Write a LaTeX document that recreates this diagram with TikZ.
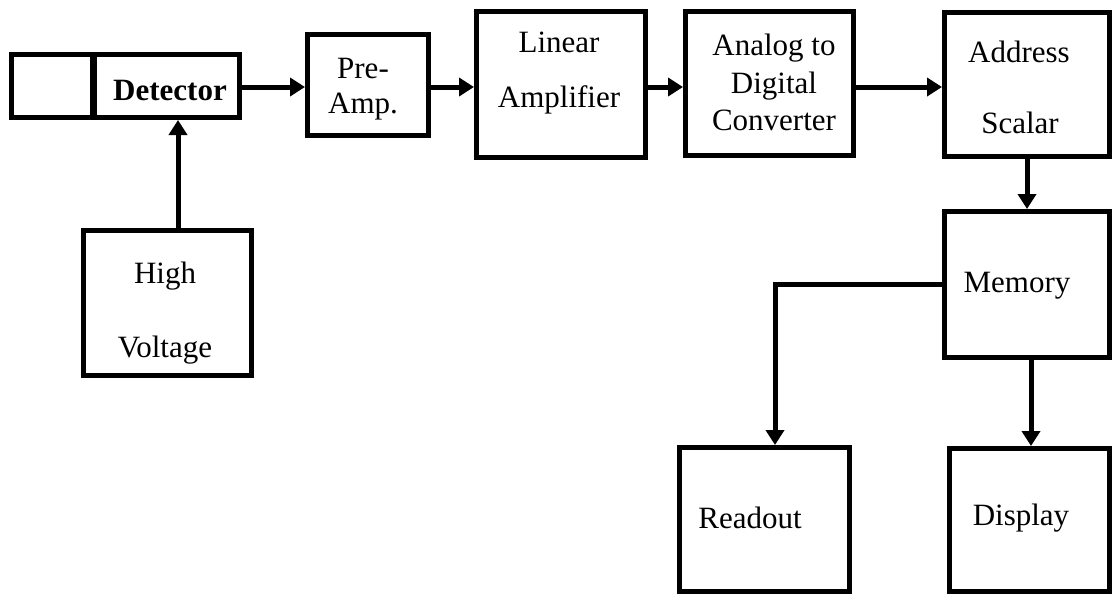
\documentclass[tikz,border=0pt]{standalone}
\usepackage{fontspec}
\setmainfont{Liberation Serif}
\usetikzlibrary{arrows.meta}
\begin{document}
\begin{tikzpicture}[x=0.5pt,y=-0.5pt,
  box/.style={draw,line width=2.5pt,inner sep=0pt,fill=none},
  txt/.style={inner sep=0pt,anchor=base,font=\fontsize{15.5}{18}\selectfont},
  arr/.style={line width=2.5pt,-{Triangle[length=7.5pt,width=9pt]}}]
\useasboundingbox (0,0) rectangle (1112,595);
% boxes
\node[box,minimum width=40.5pt,minimum height=31.5pt] (blank) at (52,86) {};
\node[box,minimum width=72.5pt,minimum height=31.5pt] (det) at (167,86) {};
\node[box,minimum width=60.5pt,minimum height=50.5pt] (pre) at (368,85) {};
\node[box,minimum width=84.5pt,minimum height=73pt] (lin) at (561,84.5) {};
\node[box,minimum width=84pt,minimum height=72pt] (adc) at (769.5,83.5) {};
\node[box,minimum width=82.5pt,minimum height=72pt] (addr) at (1027,84.5) {};
\node[box,minimum width=82.5pt,minimum height=73pt] (mem) at (1027,284.5) {};
\node[box,minimum width=85pt,minimum height=72pt] (ro) at (764.5,519.5) {};
\node[box,minimum width=80pt,minimum height=71.5pt] (disp) at (1029.5,520) {};
\node[box,minimum width=84pt,minimum height=72.5pt] (hv) at (167.5,303) {};
% texts
\node[txt,font=\fontsize{15.5}{18}\selectfont\bfseries] (tdet) at (170,100) {Detector};
\node[txt] (tpre1) at (363,78) {Pre-};
\node[txt] (tpre2) at (363,113) {Amp.};
\node[txt] (tlin1) at (559,52) {Linear};
\node[txt] (tlin2) at (559,107) {Amplifier};
\node[txt] (tadc1) at (774,55) {Analog to};
\node[txt] (tadc2) at (774,93) {Digital};
\node[txt] (tadc3) at (774,130) {Converter};
\node[txt] (taddr1) at (1019,62) {Address};
\node[txt] (taddr2) at (1020,133) {Scalar};
\node[txt] (tmem) at (1017,292) {Memory};
\node[txt] (tro) at (750,528) {Readout};
\node[txt] (tdisp) at (1021,525) {Display};
\node[txt] (thv1) at (165,283) {High};
\node[txt] (thv2) at (165,357) {Voltage};
% helper coordinates
\coordinate (row) at (0,87);
\coordinate (hvx) at (178,0);
\coordinate (rox) at (775,0);
\coordinate (dx) at (1031,0);
% connectors
\draw[arr] (det.east |- row) -- (pre.west |- row);
\draw[arr] (pre.east |- row) -- (lin.west |- row);
\draw[arr] (lin.east |- row) -- (adc.west |- row);
\draw[arr] (adc.east |- row) -- (addr.west |- row);
\draw[arr] (addr.south) -- (mem.north);
\draw[arr] (hv.north -| hvx) -- (det.south -| hvx);
\draw[arr] (mem.west) -| (ro.north -| rox);
\draw[arr] (mem.south -| dx) -- (disp.north -| dx);
\end{tikzpicture}
\end{document}
